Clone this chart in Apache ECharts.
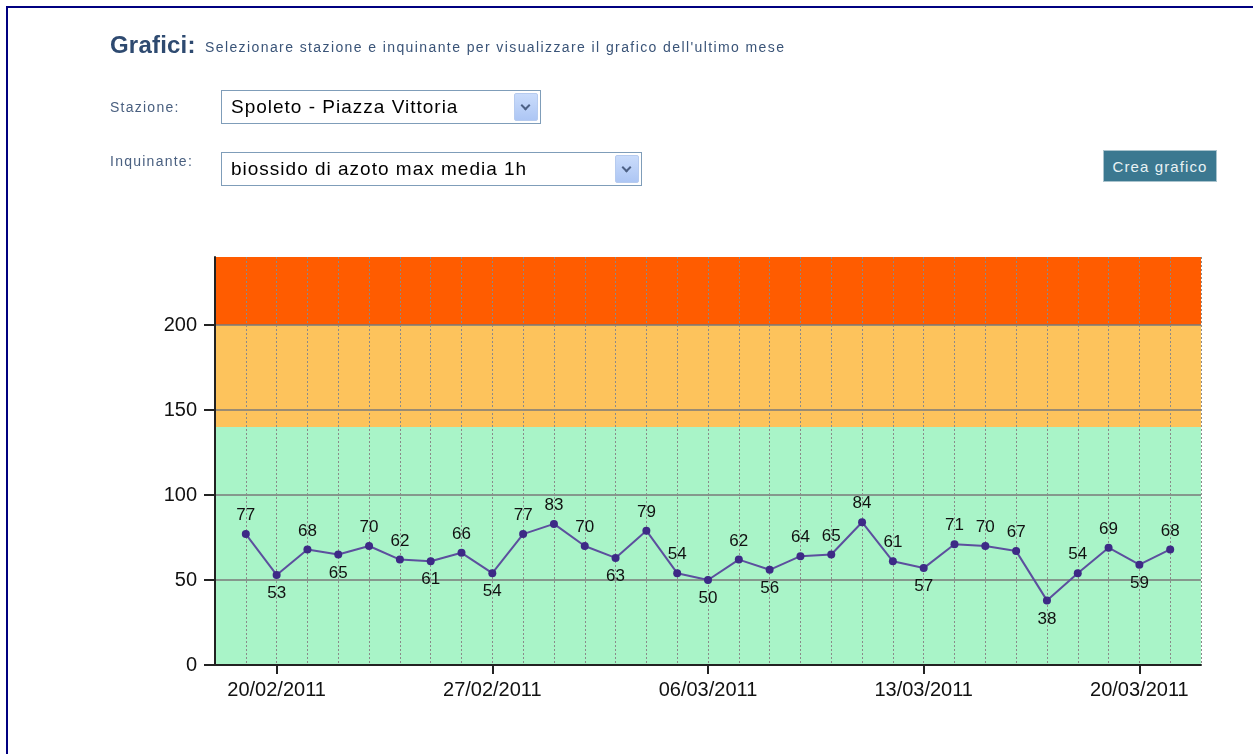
<!DOCTYPE html>
<html>
<head>
<meta charset="utf-8">
<script src="https://cdn.jsdelivr.net/npm/echarts@6/dist/echarts.min.js"></script>
<style>
  html, body { margin: 0; padding: 0; background: #fff; }
  body { width: 1253px; height: 754px; position: relative; overflow: hidden; font-family: "Liberation Sans", Arial, sans-serif; }
  #chart { position: absolute; left: 0; top: 0; width: 1253px; height: 754px; }
  .frame { position: absolute; left: 6px; top: 6px; right: -10px; bottom: -10px; border-top: 2px solid #000080; border-left: 2px solid #000080; }
  .title { position: absolute; left: 110px; top: 31px; color: #2e4a70; font-size: 24px; font-weight: bold; letter-spacing: 0.2px; white-space: nowrap; }
  .sub { position: absolute; left: 205px; top: 39px; color: #3a5478; font-size: 14px; letter-spacing: 1.4px; white-space: nowrap; }
  .lbl { position: absolute; left: 110px; font-size: 14px; color: #4a6080; letter-spacing: 1.25px; }
  .sel { position: absolute; left: 221px; height: 34px; border: 1px solid #7f9db9; box-sizing: border-box; background: #fff; }
  .sel .txt { position: absolute; left: 9px; top: 5px; font-size: 19px; letter-spacing: 1px; color: #000; white-space: nowrap; }
  .sel .btn { position: absolute; right: 2px; top: 2px; width: 24px; height: 28px; border-radius: 2px;
    background: linear-gradient(#cadcfb, #adc6f4); border: 1px solid #b6cbef; box-sizing: border-box; }
  .sel .btn::after { content: ""; position: absolute; left: 7px; top: 8px; width: 5px; height: 5px;
    border-right: 2px solid #4d6185; border-bottom: 2px solid #4d6185; transform: rotate(45deg); }
  .crea { position: absolute; left: 1103px; top: 150px; width: 114px; height: 32px; background: #3b7890;
    color: #e8f2f4; font-size: 15px; letter-spacing: 1.1px; line-height: 31px; text-align: center; border: 1px solid #a9c3cd; box-sizing: border-box; }
</style>
</head>
<body>
<div id="chart"></div>
<div class="frame"></div>
<div class="title">Grafici:</div>
<div class="sub">Selezionare stazione e inquinante per visualizzare il grafico dell'ultimo mese</div>
<div class="lbl" style="top:99px">Stazione:</div>
<div class="sel" style="top:90px;width:320px"><div class="txt">Spoleto - Piazza Vittoria</div><div class="btn"></div></div>
<div class="lbl" style="top:153px">Inquinante:</div>
<div class="sel" style="top:152px;width:421px"><div class="txt">biossido di azoto max media 1h</div><div class="btn"></div></div>
<div class="crea">Crea grafico</div>

<script>
// giorni misurati
const days = [
  "19/02/2011", "20/02/2011", "21/02/2011", "22/02/2011", "23/02/2011", "24/02/2011", "25/02/2011",
  "26/02/2011", "27/02/2011", "28/02/2011", "01/03/2011", "02/03/2011", "03/03/2011", "04/03/2011",
  "05/03/2011", "06/03/2011", "07/03/2011", "08/03/2011", "09/03/2011", "10/03/2011", "11/03/2011",
  "12/03/2011", "13/03/2011", "14/03/2011", "15/03/2011", "16/03/2011", "17/03/2011", "18/03/2011",
  "19/03/2011", "20/03/2011", "21/03/2011"
];
// NO2 max media 1h
const no2 = [77, 53, 68, 65, 70, 62, 61, 66, 54, 77, 83, 70, 63, 79, 54, 50, 62, 56, 64, 65,
  84, 61, 57, 71, 70, 67, 38, 54, 69, 59, 68];
// giorni vuoti ai bordi dell'asse
const axisStart = "18/02/2011";
const axisEnd = "22/03/2011";
const tickDays = ["20/02/2011", "27/02/2011", "06/03/2011", "13/03/2011", "20/03/2011"];
// soglie colorate
const bands = [
  { from: 0, to: 140, color: "#a9f4c8" },
  { from: 140, to: 200, color: "#fdc35c" },
  { from: 200, to: 240, color: "#ff5c00" }
];

const categories = [axisStart, ...days, axisEnd];
const seriesData = [null, ...no2, null].map((v, i, arr) => {
  if (v == null) return null;
  const prev = arr[i - 1], next = arr[i + 1];
  const isMin = prev != null && v < prev && (next == null || v < next);
  return { value: v, label: { position: isMin ? "bottom" : "top" } };
});

const showTick = (idx, val) => tickDays.includes(val);

const chart = echarts.init(document.getElementById("chart"));
chart.setOption({
  animation: false,
  grid: { left: 215, right: 52, top: 257, bottom: 89, containLabel: false },
  xAxis: {
    type: "category",
    data: categories,
    boundaryGap: false,
    z: 2,
    axisLine: { lineStyle: { color: "#222", width: 2 } },
    axisTick: { interval: showTick, length: 9, lineStyle: { color: "#222", width: 2 } },
    axisLabel: { interval: showTick, margin: 15, color: "#111", fontSize: 20, fontFamily: "Liberation Sans" },
    splitLine: { show: true, interval: 0, lineStyle: { color: "#8a8a8a", type: [2, 2], width: 1 } }
  },
  yAxis: {
    type: "value",
    min: 0,
    max: 240,
    interval: 50,
    z: 2,
    axisLine: { show: true, lineStyle: { color: "#222", width: 2 } },
    axisTick: { show: true, length: 11, lineStyle: { color: "#222", width: 2 } },
    axisLabel: { margin: 18, color: "#111", fontSize: 20, fontFamily: "Liberation Sans", showMaxLabel: false },
    splitLine: { show: true, showMinLine: false, showMaxLine: false, lineStyle: { color: "#7a7a7a", width: 1.5 } }
  },
  series: [
    {
      type: "line",
      data: [],
      z: 1,
      silent: true,
      markArea: {
        silent: true,
        itemStyle: { opacity: 1 },
        data: bands.map(b => [{ yAxis: b.from, itemStyle: { color: b.color } }, { yAxis: b.to }])
      }
    },
    {
      type: "line",
      data: seriesData,
      z: 3,
      connectNulls: false,
      symbol: "circle",
      symbolSize: 8,
      lineStyle: { color: "#5c4f9e", width: 2 },
      itemStyle: { color: "#3d2a86" },
      label: { show: true, distance: 6, color: "#111", fontSize: 17, fontFamily: "Liberation Sans" }
    }
  ]
});
</script>
</body>
</html>
